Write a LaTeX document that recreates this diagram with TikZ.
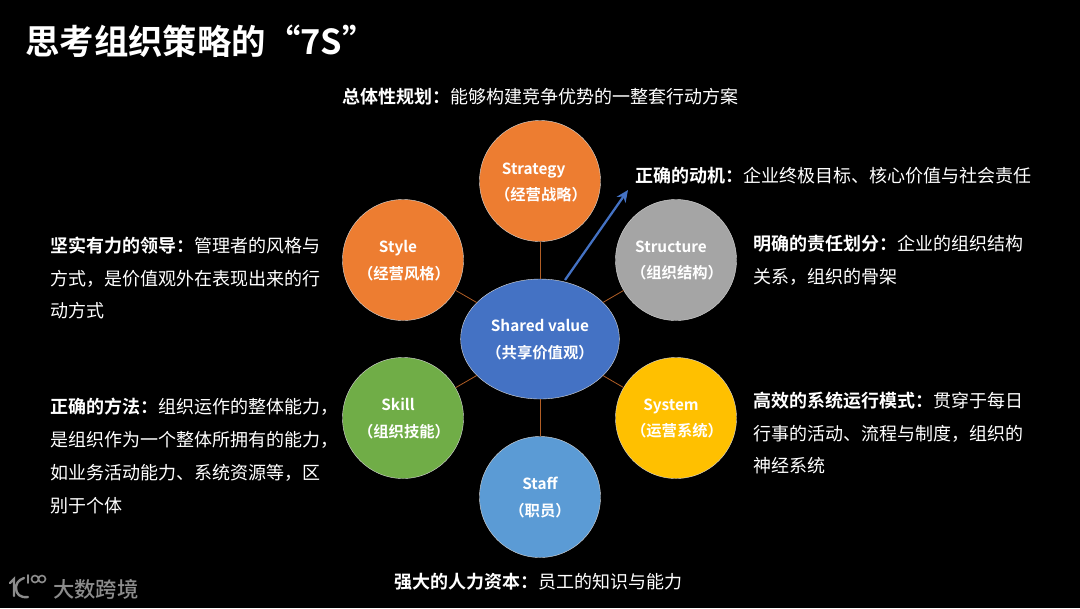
\documentclass[tikz,border=0pt]{standalone}
\usepackage{fontspec}
\setmainfont{Noto Sans CJK SC}
\usetikzlibrary{shapes.geometric,arrows.meta}
\definecolor{cblue}{HTML}{4472C4}
\definecolor{corange}{HTML}{ED7D31}
\definecolor{cgray}{HTML}{A5A5A5}
\definecolor{cgold}{HTML}{FFC000}
\definecolor{clblue}{HTML}{5B9BD5}
\definecolor{cgreen}{HTML}{70AD47}
\definecolor{clogo}{HTML}{8C8C8C}
\newfontfamily\medfont{Noto Sans CJK SC Medium}
\newfontfamily\boldfont{Noto Sans CJK SC Bold}
\tikzset{
 px/.style={x=0.75pt,y=-0.75pt},
 orb/.style={circle,minimum size=90.75pt,inner sep=0pt,draw=white!85!black,line width=0.3pt,fill=#1},
 lab/.style={text=white,align=center,inner sep=0pt,font=\boldfont\fontsize{11.5pt}{20pt}\selectfont},
 txt/.style={text=white,anchor=west,align=left,inner sep=0pt,font=\fontsize{13.5pt}{24.6pt}\selectfont},
 link/.style={draw=corange!75!black,line width=0.6pt},
 logoline/.style={draw=clogo,line width=1.8pt,line cap=round},
}
\newcommand{\bt}[1]{{\boldfont#1}}
\begin{document}
\begin{tikzpicture}[px]
\useasboundingbox (0,0) rectangle (1080,608);
\fill[black] (0,0) rectangle (1080,608);
\node[txt,font=\boldfont\fontsize{25.8pt}{28pt}\selectfont] (title) at (25,41) {思考组织策略的“7S”};
\node[orb=corange] (strategy) at (540,181) {};
\node[orb=corange] (style) at (403,260) {};
\node[orb=cgray] (structure) at (676,260) {};
\node[orb=cgreen] (skill) at (403,418) {};
\node[orb=cgold] (system) at (676,418) {};
\node[orb=clblue] (staff) at (540,497) {};
\node[ellipse,minimum width=119pt,minimum height=90pt,inner sep=0pt,draw=white!85!black,line width=0.3pt,fill=cblue] (shared) at (540,339) {};
\foreach \n in {strategy,style,structure,skill,system,staff}{\draw[link] (shared) -- (\n);}
\node[lab] (l1) at (541,182.5) {\makebox[0pt]{\hspace*{-11pt}Strategy}\\（经营战略）};
\node[lab] (l2) at (404,260.5) {\makebox[0pt]{\hspace*{-9pt}Style}\\（经营风格）};
\node[lab] (l3) at (677,260.5) {\makebox[0pt]{\hspace*{-9pt}Structure}\\（组织结构）};
\node[lab] (l4) at (404,418.5) {\makebox[0pt]{\hspace*{-9pt}Skill}\\（组织技能）};
\node[lab] (l5) at (677,418.5) {\makebox[0pt]{\hspace*{-9pt}System}\\（运营系统）};
\node[lab] (l6) at (540,497.5) {Staff\\（职员）};
\node[lab] (l7) at (540,339.5) {Shared value\\（共享价值观）};
\coordinate (a1) at (565,280);
\coordinate (a2) at (628,190);
\draw[-{Stealth[length=9pt,width=8pt]},draw=cblue,fill=cblue,line width=1.7pt] (a1) -- (a2);
\node[txt] (t1) at (342,96.5) {\bt{总体性规划：}能够构建竞争优势的一整套行动方案};
\node[txt] (t2) at (635.5,175.5) {\bt{正确的动机：}企业终极目标、核心价值与社会责任};
\node[txt] (t3) at (50.5,278) {\bt{坚实有力的领导：}管理者的风格与\\方式，是价值观外在表现出来的行\\动方式};
\node[txt] (t4) at (753.5,260) {\bt{明确的责任划分：}企业的组织结构\\关系，组织的骨架};
\node[txt] (t5) at (50.5,456) {\bt{正确的方法：}组织运作的整体能力，\\是组织作为一个整体所拥有的能力，\\如业务活动能力、系统资源等，区\\别于个体};
\node[txt] (t6) at (753.5,433) {\bt{高效的系统运行模式：}贯穿于每日\\行事的活动、流程与制度，组织的\\神经系统};
\node[txt] (t7) at (394,581.5) {\bt{强大的人力资本：}员工的知识与能力};
\node[text=clogo,anchor=west,inner sep=0pt,font=\medfont\fontsize{16pt}{18pt}\selectfont] (logo) at (53,589) {大数跨境};
\draw[logoline] (10,583) -- (14,579) -- (14,596);
\draw[logoline] (24,578) .. controls (18,580) and (16,584) .. (16,588) .. controls (16,594) and (20,598) .. (28,597);
\draw[logoline,line width=1.2pt] (28,575) -- (28,583);
\draw[logoline,line width=1.2pt] (35,579) circle (3.5) (42,579) circle (3.5);
\end{tikzpicture}
\end{document}
